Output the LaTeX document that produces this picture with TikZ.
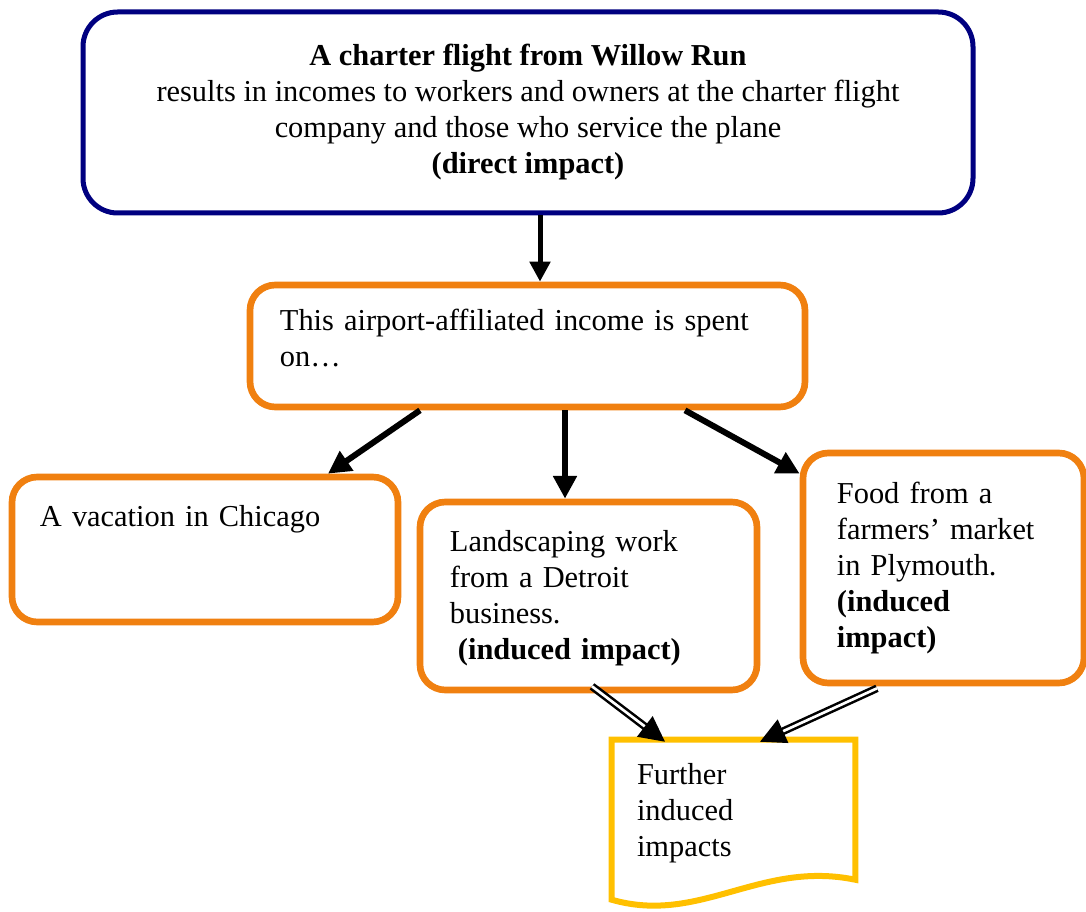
\documentclass[tikz,border=0pt]{standalone}
\usepackage{fontspec}
\setmainfont{Liberation Serif}
\usetikzlibrary{arrows.meta,positioning,calc}
\definecolor{boxnavy}{RGB}{0,0,128}
\definecolor{boxorange}{RGB}{240,128,16}
\definecolor{docyellow}{RGB}{255,192,0}
\tikzset{
  navybox/.style={draw=boxnavy, line width=3.75pt, rounded corners=26pt, align=center},
  orangebox/.style={draw=boxorange, line width=5pt, rounded corners=19pt},
  txt/.style={inner sep=0pt, anchor=base west, align=left, text width=#1},
  spendarrow/.style={line width=4.5pt, -{Triangle[length=17pt,width=17pt]}},
  dblarrow/.style={double=white, double distance=2pt, line width=1.9pt, -{Triangle[length=19pt,width=19pt]}}
}

\begin{document}
\begin{tikzpicture}[x=0.75pt, y=-0.75pt, style={font=\fontsize{22.8}{27}\selectfont}]
\useasboundingbox (0,0) rectangle (1086,912);
% Direct impact
\node[navybox, minimum width=667.5pt, minimum height=150.75pt] (charter) at (528,112.5)
  {\textbf{A charter flight from Willow Run}\\results in incomes to workers and owners at the charter flight\\company and those who service the plane\\\textbf{(direct impact)}};
% Spending
\node[orangebox, minimum width=416.25pt, minimum height=91.5pt] (spend) at (527.5,346) {};
\node[txt=400pt] (spendtext) at ($(spend.north west)+(33,49)$) {This airport-affiliated income is spent\\on\ldots};
% Where it goes
\node[orangebox, minimum width=289.5pt, minimum height=108.75pt] (chicago) at (205,549.5) {};
\node[txt=270pt] (chicagotext) at ($(chicago.north west)+(31,53)$) {A vacation in Chicago};
\node[orangebox, minimum width=252.75pt, minimum height=141pt] (detroit) at (588.5,596) {};
\node[txt=240pt] (detroittext) at ($(detroit.north west)+(33,53)$) {Landscaping work\\from a Detroit\\business.\\\hspace*{6pt}\textbf{(induced impact)}};
\node[orangebox, minimum width=210.75pt, minimum height=172.5pt] (plymouth) at (943.5,568) {};
\node[txt=200pt] (plymouthtext) at ($(plymouth.north west)+(37,54)$) {Food from a\\farmers' market\\in Plymouth.\\\textbf{(induced}\\\textbf{impact)}};
% Further impacts
\node[minimum width=182.25pt, minimum height=120pt] (further) at (733.5,820) {};
\draw[docyellow, line width=4.5pt] (further.north west) -- (further.north east) -- ($(further.north east)+(0,140)$)
  .. controls (760,860) and (700,925) .. ($(further.north west)+(0,160)$) -- cycle;
\node[txt=170pt] (furthertext) at ($(further.north west)+(25,45)$) {Further\\induced\\impacts};
% Arrows
\draw[line width=3.75pt, -{Triangle[length=15pt,width=15pt]}] ($(charter.south)+(12,0)$) -- ($(spend.north)+(12.5,0)$);
\draw[spendarrow] ($(spend.south)+(-107.5,0)$) -- ($(chicago.north)+(123,0)$);
\draw[spendarrow] ($(spend.south)+(37.5,0)$) -- ($(detroit.north)+(-23.5,0)$);
\draw[spendarrow] ($(spend.south)+(157.5,0)$) -- ($(plymouth.north west)+(0,24)$);
\draw[dblarrow] ($(detroit.south)+(3.5,-7)$) -- ($(further.north)+(-68.5,2)$);
\draw[dblarrow] ($(plymouth.south)+(-66.5,2)$) -- ($(further.north)+(26.5,2)$);
\end{tikzpicture}
\end{document}
